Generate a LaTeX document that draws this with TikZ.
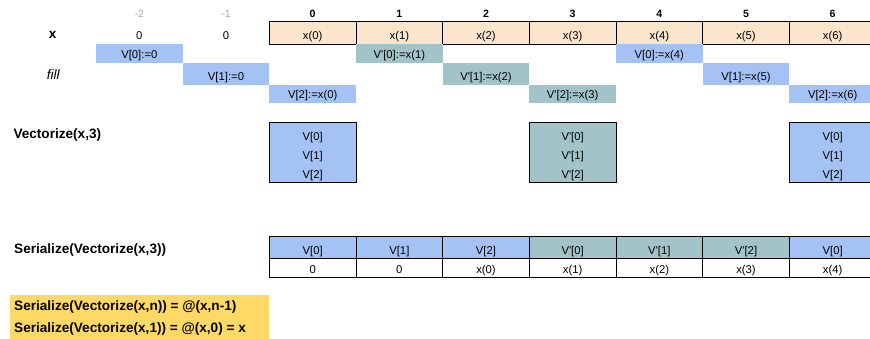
\documentclass[tikz,border=0pt]{standalone}
\usepackage{fontspec}
\setmainfont{Liberation Sans}
\definecolor{peach}{HTML}{FCE5CD}
\definecolor{vblue}{HTML}{A4C2F4}
\definecolor{vteal}{HTML}{A2C4C9}
\definecolor{noteyellow}{HTML}{FFD966}
\definecolor{hdrgray}{HTML}{A8A8A8}
\newcommand{\apos}{\textquotesingle}
\begin{document}
\begin{tikzpicture}[x=1pt,y=-1pt,
  cell/.style={inner sep=0pt, outer sep=0pt, minimum width=86.67pt, anchor=south west,
    font=\fontsize{11.3}{13}\selectfont},
  rowx/.style={minimum height=22.3pt, text height=17.7pt, text depth=4.6pt},
  rowa/.style={minimum height=18.4pt, text height=13.8pt, text depth=4.6pt},
  rowb/.style={minimum height=22.3pt, text height=17.7pt, text depth=4.6pt},
  rowc/.style={minimum height=18.3pt, text height=13.7pt, text depth=4.6pt},
  vr1/.style={minimum height=22pt, text height=18pt, text depth=4pt},
  vr2/.style={minimum height=19pt, text height=15pt, text depth=4pt},
  sr1/.style={minimum height=21.6pt, text height=17.6pt, text depth=4pt},
  sr2/.style={minimum height=19pt, text height=15pt, text depth=4pt},
  xcell/.style={cell, rowx, fill=peach, draw=black, line width=1pt},
  bluev/.style={fill=vblue},
  tealv/.style={fill=vteal},
  scell/.style={cell, draw=black, line width=1pt},
  hdr/.style={inner sep=0pt, anchor=base, font=\fontsize{10.6}{12}\selectfont\bfseries},
  hdrg/.style={inner sep=0pt, anchor=base, text=hdrgray, font=\fontsize{10.6}{12}\selectfont},
  lbl/.style={inner sep=0pt, font=\fontsize{13.6}{16}\selectfont\bfseries},
  boxline/.style={draw=black, line width=1pt}
]
\useasboundingbox (0,0) rectangle (870,339);
\clip (0,0) rectangle (870,339);

% header row
\node[hdrg] (hm2) at (139.33,17.7) {-2};
\node[hdrg] (hm1) at (226,17.7) {-1};
\node[hdr] (h0) at (312.67,17.7) {0};
\node[hdr] (h1) at (399.33,17.7) {1};
\node[hdr] (h2) at (486,17.7) {2};
\node[hdr] (h3) at (572.67,17.7) {3};
\node[hdr] (h4) at (659.33,17.7) {4};
\node[hdr] (h5) at (746,17.7) {5};
\node[hdr] (h6) at (832.67,17.7) {6};

% row labels
\node[lbl, anchor=base] (xlab) at (52.7,38.3) {x};
\node[inner sep=0pt, anchor=base, font=\fontsize{13.6}{16}\selectfont\itshape] (filllab) at (53.3,80) {fill};
\node[lbl, anchor=base west] (veclab) at (13.3,138.3) {Vectorize(x,3)};
\node[lbl, anchor=base west] (serlab) at (14,253.5) {Serialize(Vectorize(x,3))};

% x row
\node[cell, rowx] (xm2) at (96,44.3) {0};
\node[cell, rowx] (xm1) at (182.67,44.3) {0};
\node[xcell] (x0) at (269.33,44.3) {x(0)};
\node[xcell] (x1) at (356,44.3) {x(1)};
\node[xcell] (x2) at (442.67,44.3) {x(2)};
\node[xcell] (x3) at (529.33,44.3) {x(3)};
\node[xcell] (x4) at (616,44.3) {x(4)};
\node[xcell] (x5) at (702.67,44.3) {x(5)};
\node[xcell] (x6) at (789.33,44.3) {x(6)};

% fill rows
\node[cell, rowa, bluev] (fa1) at (96,62.7) {V[0]:=0};
\node[cell, rowa, tealv] (fa2) at (356,62.7) {V\apos[0]:=x(1)};
\node[cell, rowa, bluev] (fa3) at (616,62.7) {V[0]:=x(4)};
\node[cell, rowb, bluev] (fb1) at (182.67,85) {V[1]:=0};
\node[cell, rowb, tealv] (fb2) at (442.67,85) {V\apos[1]:=x(2)};
\node[cell, rowb, bluev] (fb3) at (702.67,85) {V[1]:=x(5)};
\node[cell, rowc, bluev] (fc1) at (269.33,103.3) {V[2]:=x(0)};
\node[cell, rowc, tealv] (fc2) at (529.33,103.3) {V\apos[2]:=x(3)};
\node[cell, rowc, bluev] (fc3) at (789.33,103.3) {V[2]:=x(6)};

% Vectorize boxes
\node[cell, vr1, bluev] (va0) at (269.33,144.3) {V[0]};
\node[cell, vr2, bluev] (va1) at (269.33,163.3) {V[1]};
\node[cell, vr2, bluev] (va2) at (269.33,182.3) {V[2]};
\draw[boxline] (va0.north west) rectangle (va2.south east);
\node[cell, vr1, tealv] (vb0) at (529.33,144.3) {V\apos[0]};
\node[cell, vr2, tealv] (vb1) at (529.33,163.3) {V\apos[1]};
\node[cell, vr2, tealv] (vb2) at (529.33,182.3) {V\apos[2]};
\draw[boxline] (vb0.north west) rectangle (vb2.south east);
\node[cell, vr1, bluev] (vc0) at (789.33,144.3) {V[0]};
\node[cell, vr2, bluev] (vc1) at (789.33,163.3) {V[1]};
\node[cell, vr2, bluev] (vc2) at (789.33,182.3) {V[2]};
\draw[boxline] (vc0.north west) rectangle (vc2.south east);

% Serialize table
\node[scell, sr1, bluev] (s0) at (269.33,258.3) {V[0]};
\node[scell, sr1, bluev] (s1) at (356,258.3) {V[1]};
\node[scell, sr1, bluev] (s2) at (442.67,258.3) {V[2]};
\node[scell, sr1, tealv] (s3) at (529.33,258.3) {V\apos[0]};
\node[scell, sr1, tealv] (s4) at (616,258.3) {V\apos[1]};
\node[scell, sr1, tealv] (s5) at (702.67,258.3) {V\apos[2]};
\node[scell, sr1, bluev] (s6) at (789.33,258.3) {V[0]};
\node[scell, sr2] (t0) at (269.33,277.3) {0};
\node[scell, sr2] (t1) at (356,277.3) {0};
\node[scell, sr2] (t2) at (442.67,277.3) {x(0)};
\node[scell, sr2] (t3) at (529.33,277.3) {x(1)};
\node[scell, sr2] (t4) at (616,277.3) {x(2)};
\node[scell, sr2] (t5) at (702.67,277.3) {x(3)};
\node[scell, sr2] (t6) at (789.33,277.3) {x(4)};

% note
\node[fill=noteyellow, inner sep=0pt, minimum width=259pt, minimum height=43.3pt, anchor=north west] (note) at (10,295) {};
\node[lbl, anchor=base west] (n1) at (14,310.4) {Serialize(Vectorize(x,n)) = @(x,n-1)};
\node[lbl, anchor=base west] (n2) at (14,332.1) {Serialize(Vectorize(x,1)) = @(x,0) = x};
\end{tikzpicture}
\end{document}
